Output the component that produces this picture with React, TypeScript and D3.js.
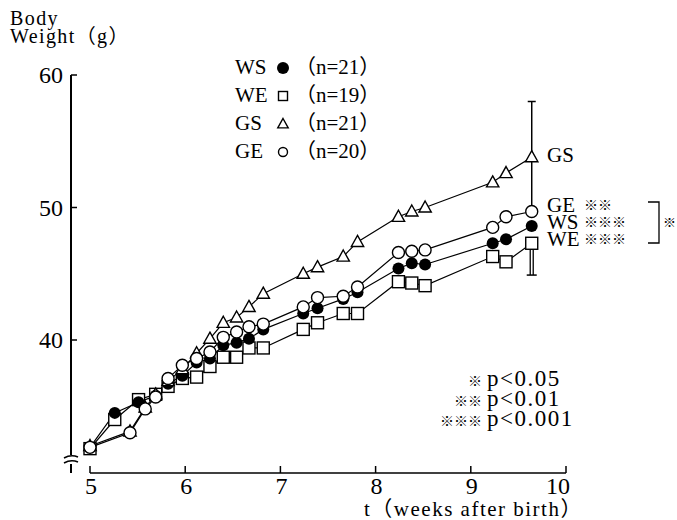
import React from 'react';
import { scaleLinear, line } from 'd3';

const width = 677;
const height = 520;

// measurement times (weeks after birth); W groups start at 5.26, G groups at 5.42
const weeksW = [5.0, 5.26, 5.51, 5.69, 5.82, 5.97, 6.12, 6.26, 6.40, 6.54, 6.67, 6.82, 7.24, 7.39, 7.66, 7.81, 8.24, 8.38, 8.52, 9.23, 9.37, 9.64];
const weeksG = [5.0, 5.42, 5.58, 5.69, 5.82, 5.97, 6.12, 6.26, 6.40, 6.54, 6.67, 6.82, 7.24, 7.39, 7.66, 7.81, 8.24, 8.38, 8.52, 9.23, 9.37, 9.64];

const wsWeight = [31.9, 34.5, 35.3, 35.8, 36.7, 37.3, 38.3, 38.6, 39.6, 39.8, 40.1, 40.8, 42.0, 42.4, 43.1, 43.6, 45.4, 45.8, 45.7, 47.3, 47.6, 48.6];
const weWeight = [31.8, 34.0, 35.5, 35.9, 36.5, 37.1, 37.2, 38.0, 38.7, 38.7, 39.4, 39.4, 40.8, 41.3, 42.0, 42.0, 44.4, 44.3, 44.1, 46.3, 45.9, 47.3];
const gsWeight = [32.0, 33.1, 34.9, 35.9, 36.9, 37.8, 39.0, 40.1, 41.3, 41.7, 42.5, 43.5, 45.0, 45.5, 46.3, 47.4, 49.3, 49.7, 50.0, 51.9, 52.6, 53.8];
const geWeight = [31.9, 33.0, 34.8, 35.7, 37.1, 38.1, 38.6, 39.1, 40.2, 40.6, 41.0, 41.2, 42.5, 43.2, 43.3, 44.0, 46.6, 46.7, 46.8, 48.5, 49.3, 49.7];

const legendNames = ['WS', 'WE', 'GS', 'GE'];
const legendN = ['（n=21）', '（n=19）', '（n=21）', '（n=20）'];
const endLabels = ['GS', 'GE', 'WS', 'WE'];
const endStars = ['', '※※', '※※※', '※※※'];
const pStars = ['※', '※※', '※※※'];
const pLabels = ['p<0.05', 'p<0.01', 'p<0.001'];
const xTicks = [5, 6, 7, 8, 9, 10];
const yTicks = [40, 50, 60];

const font = '"Liberation Serif", "Noto Sans CJK JP", serif';
const starFont = '"Noto Sans CJK JP", "DejaVu Sans", sans-serif';

const Marker = ({ shape, x, y, size }) => {
  if (shape === 'dot') return <circle cx={x} cy={y} r={size} fill="black" />;
  if (shape === 'circle') return <circle cx={x} cy={y} r={size} fill="white" stroke="black" strokeWidth={1.4} />;
  if (shape === 'square') {
    return <rect x={x - size} y={y - size} width={2 * size} height={2 * size} fill="white" stroke="black" strokeWidth={1.4} />;
  }
  const r = size;
  return (
    <path
      d={`M${x},${y - r}L${x + r * 0.95},${y + r * 0.7}L${x - r * 0.95},${y + r * 0.7}Z`}
      fill="white" stroke="black" strokeWidth={1.4}
    />
  );
};

const App = () => {
  const x = scaleLinear().domain([5, 10]).range([90, 566]);
  const y = scaleLinear().domain([40, 60]).range([340, 75]);

  const series = [
    { name: 'WE', weeks: weeksW, values: weWeight, shape: 'square', size: 6 },
    { name: 'WS', weeks: weeksW, values: wsWeight, shape: 'dot', size: 6 },
    { name: 'GS', weeks: weeksG, values: gsWeight, shape: 'triangle', size: 6.5 },
    { name: 'GE', weeks: weeksG, values: geWeight, shape: 'circle', size: 6 },
  ];
  const legendShapes = ['dot', 'square', 'triangle', 'circle'];
  const legendSizes = [6, 4.5, 5.5, 4.5];

  const last = weeksG.length - 1;
  const xe = x(weeksG[last]);
  const axisX = 71;
  const axisY = 473;

  return (
    <svg width={width} height={height} style={{ position: 'absolute', left: 0, top: 0, background: 'white' }}
      fontFamily={font}>
      {/* y axis with break */}
      <line x1={axisX} y1={y(60)} x2={axisX} y2={455} stroke="black" strokeWidth={2} />
      <line x1={axisX} y1={464} x2={axisX} y2={axisY} stroke="black" strokeWidth={2} />
      <path d={`M${axisX - 7},${458}Q${axisX},${454} ${axisX + 7},${457}`} fill="none" stroke="black" strokeWidth={1.5} />
      <path d={`M${axisX - 7},${463}Q${axisX},${459} ${axisX + 7},${462}`} fill="none" stroke="black" strokeWidth={1.5} />
      {yTicks.map(t => (
        <g key={t}>
          <line x1={axisX} x2={axisX + 6} y1={y(t)} y2={y(t)} stroke="black" strokeWidth={1.5} />
          <text x={63} y={y(t)} dy="0.35em" textAnchor="end" fontSize={24}>{t}</text>
        </g>
      ))}
      <text x={10} y={25} fontSize={20} letterSpacing={1.4}>Body</text>
      <text x={10} y={43} fontSize={20} letterSpacing={1.4}>Weight（g）</text>

      {/* x axis */}
      <line x1={x(5)} x2={x(10)} y1={axisY} y2={axisY} stroke="black" strokeWidth={1.6} />
      {xTicks.map(t => (
        <g key={t}>
          <line x1={x(t)} x2={x(t)} y1={axisY} y2={axisY - 7} stroke="black" strokeWidth={1.5} />
          <text x={t === 10 ? x(t) - 8 : x(t) + 1} y={494} textAnchor="middle" fontSize={24}>{t}</text>
        </g>
      ))}
      <text x={364} y={516} fontSize={21} letterSpacing={1.5}>t（weeks after birth）</text>

      {/* error bars */}
      <line x1={xe} x2={xe} y1={y(58.0)} y2={y(49.7)} stroke="black" strokeWidth={1.5} />
      <line x1={xe - 4} x2={xe + 4} y1={y(58.0)} y2={y(58.0)} stroke="black" strokeWidth={1.5} />
      <line x1={xe - 1.5} x2={xe - 1.5} y1={y(47.3)} y2={y(44.9)} stroke="black" strokeWidth={1.3} />
      <line x1={xe + 1.5} x2={xe + 1.5} y1={y(47.3)} y2={y(44.9)} stroke="black" strokeWidth={1.3} />
      <line x1={xe - 5} x2={xe + 5} y1={y(44.9)} y2={y(44.9)} stroke="black" strokeWidth={1.5} />

      {/* lines */}
      {series.map(s => (
        <path
          key={s.name}
          d={line<number>().x((d, i) => x(s.weeks[i])).y(d => y(d))(s.values) || ''}
          fill="none" stroke="black" strokeWidth={1.2}
        />
      ))}
      {/* markers */}
      {series.map(s => (
        <g key={s.name}>
          {s.values.map((v, i) => (
            <Marker key={i} shape={s.shape} size={s.size} x={x(s.weeks[i])} y={y(v)} />
          ))}
        </g>
      ))}

      {/* legend */}
      {legendNames.map((n, i) => (
        <g key={n} transform={`translate(235, ${74 + i * 28})`}>
          <text x={0} y={0} fontSize={21}>{n}</text>
          <Marker shape={legendShapes[i]} size={legendSizes[i]} x={48} y={-6} />
          <text x={60} y={0} fontSize={21}>{legendN[i]}</text>
        </g>
      ))}

      {/* end labels */}
      {endLabels.map((n, i) => {
        const yy = i === 0 ? 162 : 212 + (i - 1) * 17;
        return (
          <g key={n}>
            <text x={547} y={yy} fontSize={21}>{n}</text>
            <text x={584} y={yy - 2} fontSize={14} fontWeight={700} fontFamily={starFont}>{endStars[i]}</text>
          </g>
        );
      })}
      <path d="M648,202H659V243H648" fill="none" stroke="black" strokeWidth={1.3} />
      <text x={663} y={227} fontSize={13} fontWeight={700} fontFamily={starFont}>※</text>

      {/* significance legend */}
      {pLabels.map((p, i) => (
        <g key={p}>
          <text x={482} y={386 + i * 20} textAnchor="end" fontSize={14} fontWeight={700} fontFamily={starFont}>{pStars[i]}</text>
          <text x={487} y={386 + i * 20} fontSize={23} letterSpacing={1.5}>{p}</text>
        </g>
      ))}
    </svg>
  );
};

export default App;
